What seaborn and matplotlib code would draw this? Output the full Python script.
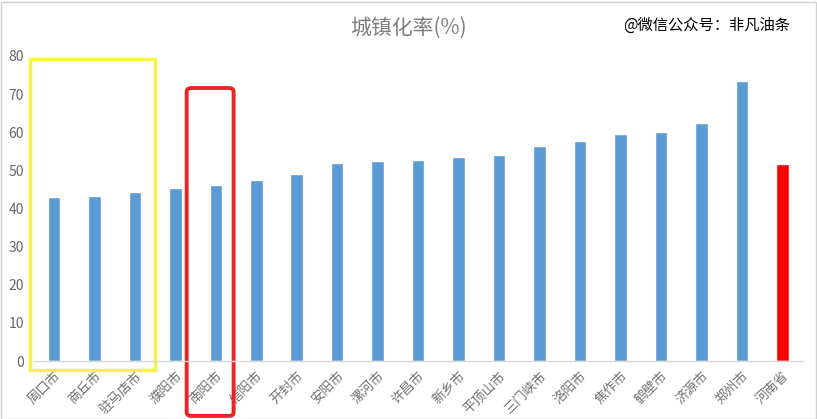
import matplotlib

matplotlib.use("Agg")

import matplotlib.pyplot as plt
import numpy as np
import pandas as pd
import seaborn as sns
from matplotlib.patches import FancyBboxPatch, Rectangle

cities = [
    "周口市", "商丘市", "驻马店市", "濮阳市", "南阳市", "信阳市", "开封市",
    "安阳市", "漯河市", "许昌市", "新乡市", "平顶山市", "三门峡市", "洛阳市",
    "焦作市", "鹤壁市", "济源市", "郑州市", "河南省",
]
rates = [
    42.9, 43.3, 44.2, 45.3, 46.2, 47.6, 49.0,
    51.9, 52.5, 52.7, 53.4, 54.0, 56.3, 57.6,
    59.5, 60.0, 62.3, 73.4, 51.6,
]
yticks = [0, 10, 20, 30, 40, 50, 60, 70, 80]

BLUE = "#5B9BD5"
RED = "#FF0000"
GRAY = "#7f7f7f"

sns.set_theme(style="white")
plt.rcParams["font.family"] = ["Noto Sans CJK SC", "DejaVu Sans"]

df = pd.DataFrame({"city": cities, "rate": rates})
colors = {c: (RED if c == "河南省" else BLUE) for c in cities}

fig = plt.figure(figsize=(8.17, 4.19), dpi=100)
ax = fig.add_axes([0.0413, 0.1384, 0.941, 0.728])
sns.barplot(data=df, x="city", y="rate", hue="city", palette=colors,
            legend=False, width=0.31, saturation=1, ax=ax)

ax.set_ylim(0, 80)
ax.set_xlim(-0.5, len(cities) - 0.5)
ax.set_yticks(yticks)
ax.set_xlabel("")
ax.set_ylabel("")
for s in ["top", "right", "left"]:
    ax.spines[s].set_visible(False)
ax.spines["bottom"].set_color("#d9d9d9")
ax.spines["bottom"].set_linewidth(1)
ax.tick_params(axis="y", length=0, pad=7, labelsize=10, labelcolor="#666666")
ax.tick_params(axis="x", length=0, pad=6, labelsize=9.5, labelcolor="#707070")
plt.setp(ax.get_xticklabels(), rotation=45, ha="right", rotation_mode="anchor")

fig.text(0.5, 0.933, "城镇化率(%)", ha="center", va="center", fontsize=15, color=GRAY)
fig.text(0.763, 0.94, "@微信公众号：非凡油条", ha="left", va="center", fontsize=11, color="black")

# highlight boxes (in category units)
ax.add_patch(Rectangle((-0.59, -2.4), 3.08, 81.6, fill=False, edgecolor="#F5F542",
                       linewidth=2.5, clip_on=False))
ax.add_patch(FancyBboxPatch((3.28, -14.4), 1.16, 86.0,
                            boxstyle="round,pad=0,rounding_size=0.12",
                            fill=False, edgecolor="#E8262A", linewidth=2.8,
                            clip_on=False, mutation_aspect=8))

fig.patches.append(Rectangle((0.001, 0.001), 0.998, 0.994, transform=fig.transFigure,
                             fill=False, edgecolor="#d0d0d0", linewidth=1))

fig.savefig("out.png", dpi=100)
